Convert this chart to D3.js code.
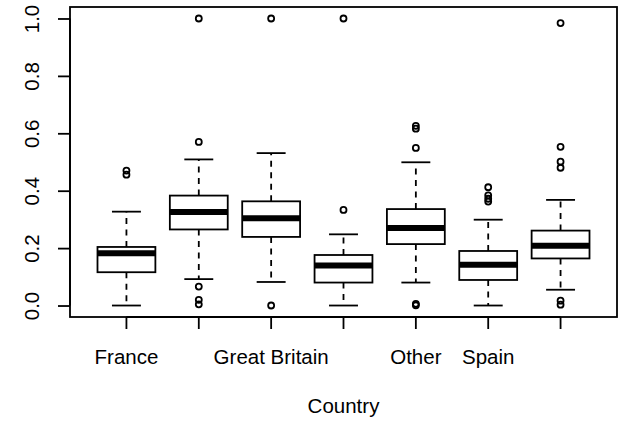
<!DOCTYPE html>
<html>
<head>
<meta charset="utf-8">
<script src="https://cdn.jsdelivr.net/npm/d3@7/dist/d3.min.js"></script>
<style>
  html, body { margin: 0; padding: 0; background: #fff; }
  svg { display: block; }
  text { font-family: "Liberation Sans", Arial, Helvetica, sans-serif; fill: #000; }
</style>
</head>
<body>
<svg id="chart" width="625" height="425"></svg>
<script>
// ---- data ----
const categories = ["France", "Germany", "Great Britain", "Italy", "Other", "Spain", "United States"];
const tickLabels = ["France", "", "Great Britain", "", "Other", "Spain", ""];
const whiskerLow  = [0.000, 0.092, 0.082, 0.000, 0.080, 0.000, 0.055];
const q1          = [0.116, 0.265, 0.239, 0.080, 0.214, 0.089, 0.164];
const median      = [0.182, 0.326, 0.304, 0.139, 0.270, 0.142, 0.208];
const q3          = [0.204, 0.383, 0.363, 0.176, 0.336, 0.190, 0.261];
const whiskerHigh = [0.327, 0.509, 0.531, 0.248, 0.499, 0.299, 0.368];
const outliers = [
  [0.456, 0.470],
  [1.000, 0.570, 0.066, 0.020, 0.004],
  [1.000, 0.000],
  [1.000, 0.333],
  [0.626, 0.616, 0.549, 0.006, 0.001],
  [0.412, 0.384, 0.372, 0.362],
  [0.984, 0.553, 0.501, 0.480, 0.017, 0.003]
];
const yTicks = [0, 0.2, 0.4, 0.6, 0.8, 1.0];
const xTitle = "Country";

// ---- layout ----
const svg = d3.select("#chart");
const plot = { left: 70, right: 617, top: 7, bottom: 317 };
const ext = 0.04 * (categories.length);       // R's 4% axis extension (in units)
const unit = (plot.right - plot.left) / (categories.length + 2 * 0.04 * categories.length);

const x = d3.scaleBand()
  .domain(categories)
  .range([plot.left + 0.04 * categories.length * unit, plot.right - 0.04 * categories.length * unit])
  .padding(0);
const bw = x.bandwidth();
const cx = c => x(c) + bw / 2;

const y = d3.scaleLinear()
  .domain([-0.04, 1.04])
  .range([plot.bottom, plot.top]);

const LW = 1.8;
const fontSize = "20.5px";

const data = categories.map((c, i) => ({
  c, lo: whiskerLow[i], q1: q1[i], med: median[i], q3: q3[i], hi: whiskerHigh[i], out: outliers[i]
}));

const g = svg.append("g");
const boxW = bw * 0.8;
const capW = boxW / 2;

const boxes = g.selectAll("g.box").data(data).join("g").attr("class", "box");

// whiskers (dashed)
boxes.append("line")
  .attr("x1", d => cx(d.c)).attr("x2", d => cx(d.c))
  .attr("y1", d => y(d.q1)).attr("y2", d => y(d.lo))
  .attr("stroke", "#000").attr("stroke-width", LW).attr("stroke-dasharray", "6,5.5");
boxes.append("line")
  .attr("x1", d => cx(d.c)).attr("x2", d => cx(d.c))
  .attr("y1", d => y(d.q3)).attr("y2", d => y(d.hi))
  .attr("stroke", "#000").attr("stroke-width", LW).attr("stroke-dasharray", "6,5.5");
// caps
boxes.append("line")
  .attr("x1", d => cx(d.c) - capW / 2).attr("x2", d => cx(d.c) + capW / 2)
  .attr("y1", d => y(d.lo)).attr("y2", d => y(d.lo))
  .attr("stroke", "#000").attr("stroke-width", LW);
boxes.append("line")
  .attr("x1", d => cx(d.c) - capW / 2).attr("x2", d => cx(d.c) + capW / 2)
  .attr("y1", d => y(d.hi)).attr("y2", d => y(d.hi))
  .attr("stroke", "#000").attr("stroke-width", LW);
// box
boxes.append("rect")
  .attr("x", d => cx(d.c) - boxW / 2).attr("width", boxW)
  .attr("y", d => y(d.q3)).attr("height", d => y(d.q1) - y(d.q3))
  .attr("fill", "#fff").attr("stroke", "#000").attr("stroke-width", LW);
// median
boxes.append("line")
  .attr("x1", d => cx(d.c) - boxW / 2).attr("x2", d => cx(d.c) + boxW / 2)
  .attr("y1", d => y(d.med)).attr("y2", d => y(d.med))
  .attr("stroke", "#000").attr("stroke-width", 6);
// outliers
boxes.selectAll("circle").data(d => d.out.map(v => ({ c: d.c, v }))).join("circle")
  .attr("cx", d => cx(d.c)).attr("cy", d => y(d.v)).attr("r", 3)
  .attr("fill", "none").attr("stroke", "#000").attr("stroke-width", LW);

// frame
svg.append("rect")
  .attr("x", plot.left).attr("y", plot.top)
  .attr("width", plot.right - plot.left).attr("height", plot.bottom - plot.top)
  .attr("fill", "none").attr("stroke", "#000").attr("stroke-width", LW);

// y axis
const yAxis = d3.axisLeft(y).tickValues(yTicks).tickFormat(d3.format(".1f")).tickSizeInner(12).tickSizeOuter(0).tickPadding(0);
const ya = svg.append("g").attr("transform", `translate(${plot.left},0)`).call(yAxis);
ya.select(".domain").attr("d", `M0,${y(yTicks[0])}V${y(yTicks[yTicks.length - 1])}`).attr("stroke-width", LW);
ya.selectAll(".tick line").attr("stroke-width", LW);
ya.selectAll(".tick text")
  .attr("x", null).attr("dy", null)
  .attr("transform", "translate(-31,0) rotate(-90)")
  .attr("text-anchor", "middle")
  .style("font-size", fontSize)
  .style("font-family", '"Liberation Sans", Arial, Helvetica, sans-serif');

// x axis
const xAxis = d3.axisBottom(x).tickSizeInner(12).tickSizeOuter(0).tickPadding(0)
  .tickFormat((d, i) => tickLabels[i]);
const xa = svg.append("g").attr("transform", `translate(0,${plot.bottom})`).call(xAxis);
xa.select(".domain").attr("d", `M${cx(categories[0])},0H${cx(categories[categories.length - 1])}`).attr("stroke-width", LW);
xa.selectAll(".tick line").attr("stroke-width", LW);
xa.selectAll(".tick text")
  .attr("y", 47).attr("dy", null)
  .style("font-size", fontSize)
  .style("font-family", '"Liberation Sans", Arial, Helvetica, sans-serif');

// x title
svg.append("text")
  .attr("x", (plot.left + plot.right) / 2).attr("y", 413)
  .attr("text-anchor", "middle")
  .style("font-size", fontSize)
  .text(xTitle);
</script>
</body>
</html>
